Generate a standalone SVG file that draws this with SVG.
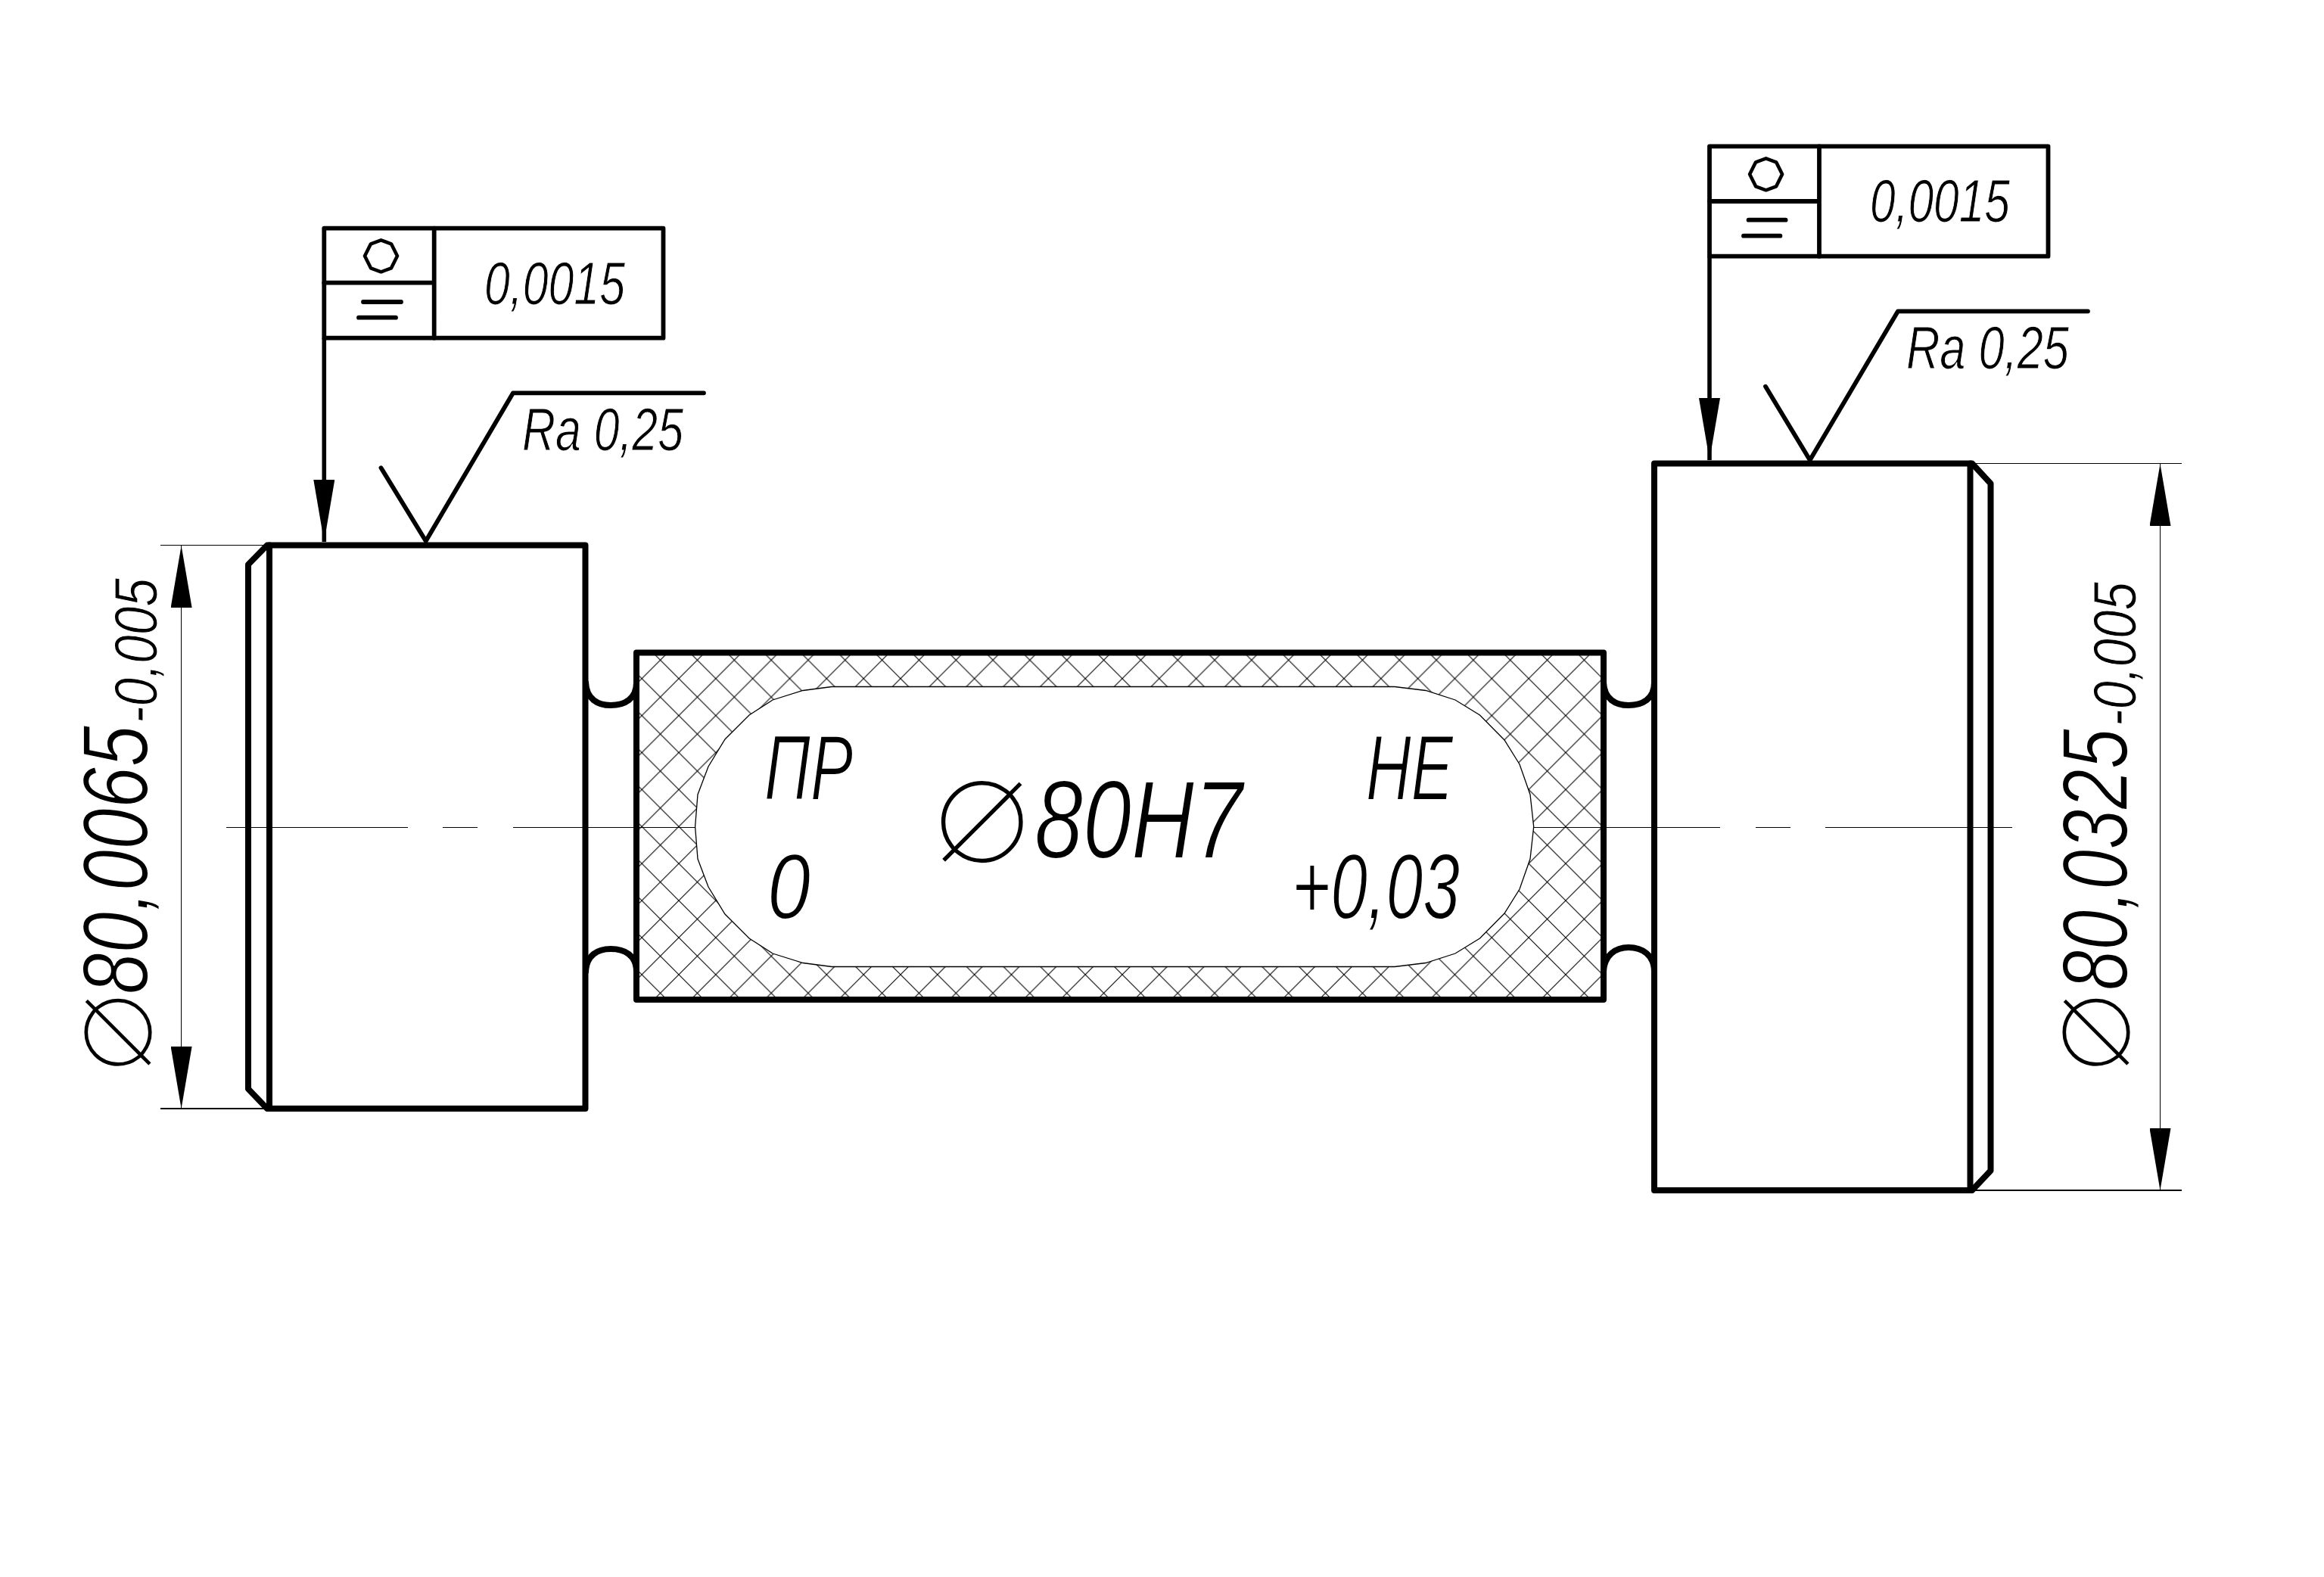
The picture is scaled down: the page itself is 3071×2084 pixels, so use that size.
<svg xmlns="http://www.w3.org/2000/svg" width="3071" height="2084" viewBox="0 0 3071 2084">
<style>
.thick{fill:none;stroke:#000;stroke-width:8;stroke-linejoin:round;stroke-linecap:round}
.mid{fill:none;stroke:#000;stroke-width:5.8;stroke-linejoin:round;stroke-linecap:round}
.thin{fill:none;stroke:#000;stroke-width:1.3;shape-rendering:crispEdges}
.t{font-family:"Liberation Sans Narrow","Liberation Sans",sans-serif;font-style:italic;fill:#000;stroke:#fff}
.s{font-size:80px;stroke-width:1.1}
.m{font-size:122px;stroke-width:1.8}
.l{font-size:146px;stroke-width:2}
.dia{font-family:"DejaVu Sans",sans-serif;font-style:normal;font-size:225px;stroke-width:10}
.dia2{font-family:"DejaVu Sans",sans-serif;font-style:normal;font-size:185px;stroke-width:8}
.sym{fill:none;stroke:#000;stroke-width:4.6;stroke-linejoin:round}
</style>
<defs>
<marker id="arr" markerUnits="userSpaceOnUse" markerWidth="84" markerHeight="28" refX="82" refY="14" orient="auto-start-reverse"><path d="M0,0L82,14L0,28Z" fill="#000"/></marker>
<pattern id="hatch" patternUnits="userSpaceOnUse" x="897" y="896.7" width="48.83" height="48.9"><path d="M0,0L48.83,48.9M48.83,0L0,48.9" fill="none" stroke="#000" stroke-width="1.1"/></pattern>
<polygon id="roundness" class="sym" points="0,-21 13.5,-16 21.5,0 13.5,16 0,21 -13.5,16 -21.5,0 -13.5,-16"/>
</defs>
<rect width="3071" height="2084" fill="#fff"/>
<g id="center-body">
<path fill="url(#hatch)" fill-rule="evenodd" d="M841,862.5H2119V1321H841Z M1099,907.5L1061,912.5L1021,925L990,945L958,977L936,1013L922,1050L918.6,1092.5L922,1135L936,1172L958,1208L990,1240L1021,1260L1061,1272.5L1099,1277.5H1843L1884,1272.5L1923,1260L1955.5,1240L1988,1207L2008,1175L2022,1135L2026.7,1092.5L2022,1050L2008,1010L1988,978L1955.5,945L1923,925L1884,912.5L1843,907.5Z"/>
<path fill="none" stroke="#000" stroke-width="1.3" d="M1099,907.5L1061,912.5L1021,925L990,945L958,977L936,1013L922,1050L918.6,1092.5L922,1135L936,1172L958,1208L990,1240L1021,1260L1061,1272.5L1099,1277.5H1843L1884,1272.5L1923,1260L1955.5,1240L1988,1207L2008,1175L2022,1135L2026.7,1092.5L2022,1050L2008,1010L1988,978L1955.5,945L1923,925L1884,912.5L1843,907.5Z"/>
<rect class="thick" x="841" y="862.5" width="1278" height="458.5"/>
<text class="t m" x="1010" y="1057" textLength="117" lengthAdjust="spacingAndGlyphs">ПР</text>
<text class="t m" x="1014" y="1214" textLength="57" lengthAdjust="spacingAndGlyphs">0</text>
<text class="t l" y="1134"><tspan class="dia" x="1230" y="1142">⌀</tspan><tspan x="1367" y="1134" textLength="275" lengthAdjust="spacingAndGlyphs">80H7</tspan></text>
<text class="t m" x="1805" y="1057" textLength="115" lengthAdjust="spacingAndGlyphs">НЕ</text>
<text class="t m" x="1707" y="1214" textLength="222" lengthAdjust="spacingAndGlyphs">+0,03</text>
</g>
<g id="left-block">
<rect class="thick" x="356" y="720.5" width="417.5" height="744.5"/>
<path class="thick" d="M356,720.5L353,720.5L328,746V1439L353,1465L356,1465"/>
<path class="thick" d="M774,902C775,924 790,932 807,932C825,932 841,924 841,902"/>
<path class="thick" d="M774,1284C775,1262 790,1254 807,1254C825,1254 841,1262 841,1284"/>
</g>
<g id="right-block">
<rect class="thick" x="2186" y="612.5" width="417.5" height="960.5"/>
<path class="thick" d="M2604,612.5L2606,612.5L2630.5,639V1547L2606,1573L2604,1573"/>
<path class="thick" d="M2119,902C2120,924 2135,932 2152,932C2170,932 2186,924 2186,902"/>
<path class="thick" d="M2119,1284C2120,1262 2135,1252 2152,1252C2170,1252 2186,1262 2186,1284"/>
</g>
<g id="left-tolerance">
<rect class="mid" x="428.3" y="301.7" width="448.2" height="145"/>
<path class="mid" d="M573.7,301.7V446.7M428.3,373.7H573.7M480,399H530M474,419.7H523"/>
<use href="#roundness" x="503.5" y="338.3"/>
<text class="t s" x="640" y="401.7" textLength="186" lengthAdjust="spacingAndGlyphs">0,0015</text>
</g>
<g id="right-tolerance">
<rect class="mid" x="2259" y="193.3" width="447.5" height="145.4"/>
<path class="mid" d="M2404,193.3V338.7M2259,266H2404M2310.6,290.7H2359.6M2304,311.7H2352.4"/>
<use href="#roundness" x="2333.6" y="230.3"/>
<text class="t s" x="2471" y="293.3" textLength="185" lengthAdjust="spacingAndGlyphs">0,0015</text>
</g>
<g id="left-roughness">
<path class="mid" d="M503.5,618.3L562.7,715L678,519.3H930"/>
<text class="t s" x="690" y="595" textLength="213" lengthAdjust="spacingAndGlyphs">Ra 0,25</text>
</g>
<g id="right-roughness">
<path class="mid" d="M2333,510.7L2391.7,608L2508,411.3H2759"/>
<text class="t s" x="2519" y="487.3" textLength="215" lengthAdjust="spacingAndGlyphs">Ra 0,25</text>
</g>
<g id="left-dimension">
<text class="t m" transform="translate(195,1418) rotate(-90)"><tspan class="dia2" x="-2" y="7">⌀</tspan><tspan x="104" y="0" textLength="355" lengthAdjust="spacingAndGlyphs">80,0065</tspan><tspan class="s" x="462" y="12" textLength="192" lengthAdjust="spacingAndGlyphs">-0,005</tspan></text>
</g>
<g id="right-dimension">
<text class="t m" transform="translate(2811,1418) rotate(-90)"><tspan class="dia2" x="-2" y="5">⌀</tspan><tspan x="109" y="0" textLength="346" lengthAdjust="spacingAndGlyphs">80,0325</tspan><tspan class="s" x="458" y="11" textLength="191" lengthAdjust="spacingAndGlyphs">-0,005</tspan></text>
</g>
<g id="connectors">
<path class="thin" d="M299.4,1093.5H538.6M584.7,1093.5H630.7M678,1093.5H918.6M2026.7,1093.5H2273.4M2320,1093.5H2366M2412,1093.5H2658.6"/>
<path class="thin" d="M211.6,720.5H353M211.6,1465H353M2606,612.5H2883M2606,1573H2883"/>
<line class="thin" x1="239.6" y1="721" x2="239.6" y2="1465" marker-start="url(#arr)" marker-end="url(#arr)"/>
<line class="thin" x1="2854.5" y1="613" x2="2854.5" y2="1573" marker-start="url(#arr)" marker-end="url(#arr)"/>
<line x1="428.3" y1="446.7" x2="428.3" y2="716" stroke="#000" stroke-width="5.6" marker-end="url(#arr)"/>
<line x1="2259" y1="338.7" x2="2259" y2="608" stroke="#000" stroke-width="5.6" marker-end="url(#arr)"/>
</g>
</svg>
